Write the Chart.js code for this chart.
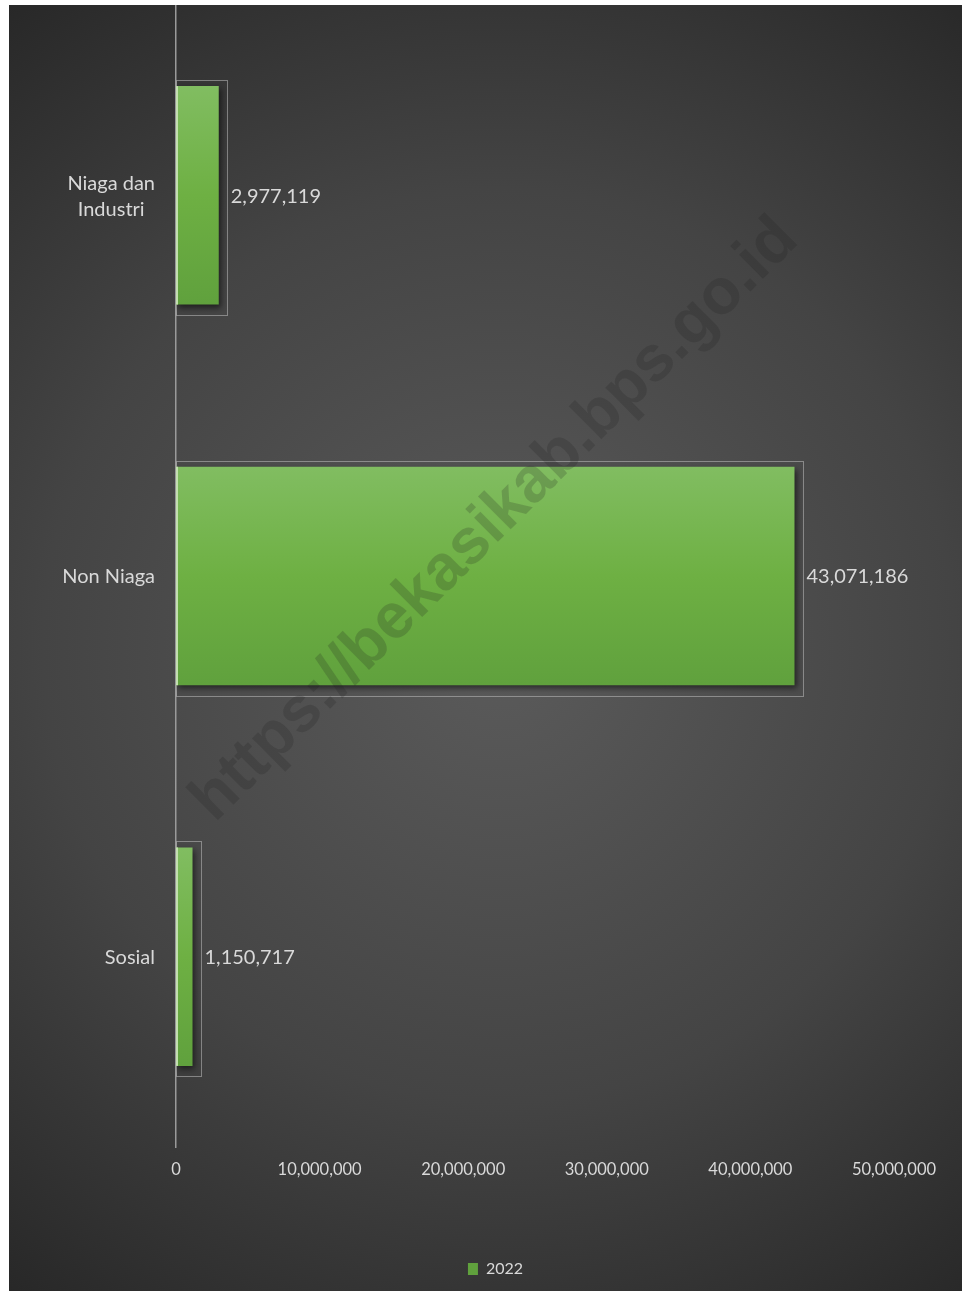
<!DOCTYPE html>
<html lang="id">
<head>
    <meta charset="UTF-8">
    <title>Pelanggan Listrik 2022</title>
    <style>
        html, body { margin: 0; padding: 0; background: #ffffff; }
        #wrap { position: absolute; left: 9px; top: 5px; width: 953px; height: 1286px; }
    </style>
</head>
<body>
    <div id="wrap"><canvas id="chart" width="953" height="1286"></canvas></div>

    <script src="https://cdn.jsdelivr.net/npm/chart.js"></script>
    <script>
        // data
        const kategori = [['Niaga dan', 'Industri'], 'Non Niaga', 'Sosial'];
        const nilai2022 = [2977119, 43071186, 1150717];
        const namaSeri = '2022';
        const sumbuX = { min: 0, max: 50000000, step: 10000000 };
        const watermark = 'https://bekasikab.bps.go.id';

        const FONT = 'Lato, "Open Sans", sans-serif';
        const TEXT = '#d9d9d9';
        const BAR_PCT = 0.574;
        const PAD_RIGHT = 68;

        function fmt(v) { return Number(v).toLocaleString('en-US'); }

        function barGradient(ctx) {
            const chart = ctx.chart;
            const y = chart.scales.y;
            if (!chart.chartArea || !y || ctx.dataIndex === undefined) return '#6fae47';
            const c = y.getPixelForValue(ctx.dataIndex);
            const h = (y.height / kategori.length) * BAR_PCT;
            if (!isFinite(c) || !isFinite(h)) return '#6fae47';
            const g = chart.ctx.createLinearGradient(0, c - h / 2, 0, c + h / 2);
            g.addColorStop(0, '#81bd61');
            g.addColorStop(0.5, '#6eb043');
            g.addColorStop(1, '#60a13d');
            return g;
        }

        // latar gradien radial
        const background = {
            id: 'background',
            beforeDraw(chart) {
                const ctx = chart.ctx;
                const g = ctx.createRadialGradient(490, 640, 0, 490, 640, 830);
                g.addColorStop(0, '#5b5b5b');
                g.addColorStop(0.55, '#444444');
                g.addColorStop(1, '#262626');
                ctx.save();
                ctx.fillStyle = g;
                ctx.fillRect(0, 0, chart.width, chart.height);
                ctx.restore();
            }
        };

        // geser legenda ke kanan supaya sama dengan gambar asli
        const legendShift = {
            id: 'legendShift',
            afterLayout(chart) {
                const lg = chart.legend;
                if (!lg) return;
                lg.left += 44;
                lg.right += 44;
            }
        };

        // kotak tipis, bayangan, label data, watermark
        const decor = {
            id: 'decor',
            beforeDatasetsDraw(chart) {
                const ctx = chart.ctx;
                const meta = chart.getDatasetMeta(0);
                ctx.save();
                ctx.strokeStyle = 'rgba(190,190,190,0.55)';
                ctx.lineWidth = 1;
                meta.data.forEach(bar => {
                    const top = bar.y - bar.height / 2;
                    const bot = bar.y + bar.height / 2;
                    ctx.strokeRect(bar.base + 0.5, Math.round(top - 6) + 0.5,
                        Math.round(bar.x + 8 - bar.base), Math.round(bot + 10 - (top - 6)));
                });
                ctx.restore();
                ctx.save();
                ctx.shadowColor = 'rgba(0,0,0,0.55)';
                ctx.shadowBlur = 6;
                ctx.shadowOffsetX = 2;
                ctx.shadowOffsetY = 3;
            },
            afterDatasetsDraw(chart) {
                const ctx = chart.ctx;
                ctx.restore();
                const meta = chart.getDatasetMeta(0);
                ctx.save();
                meta.data.forEach((bar, i) => {
                    const top = bar.y - bar.height / 2;
                    ctx.fillStyle = '#c3dfb0';
                    ctx.fillRect(bar.base, top, 2, bar.height);
                    ctx.fillStyle = TEXT;
                    ctx.font = '20px ' + FONT;
                    ctx.textAlign = 'left';
                    ctx.textBaseline = 'middle';
                    ctx.fillText(fmt(nilai2022[i]), bar.x + 12, bar.y + 1);
                });

                // label kategori (baris dirata-tengah satu sama lain)
                const y = chart.scales.y;
                ctx.font = '20px ' + FONT;
                ctx.textBaseline = 'middle';
                ctx.textAlign = 'center';
                const right = y.right - 21;
                kategori.forEach((lab, i) => {
                    const lines = Array.isArray(lab) ? lab : [lab];
                    const w = Math.max(...lines.map(l => ctx.measureText(l).width));
                    const c = y.getPixelForValue(i);
                    const lh = 26;
                    lines.forEach((l, k) => {
                        ctx.fillText(l, right - w / 2, c + 1 + (k - (lines.length - 1) / 2) * lh);
                    });
                });

                // watermark
                ctx.translate(486, 515);
                ctx.rotate(-44.8 * Math.PI / 180);
                ctx.font = 'bold 64px "Liberation Sans", Arial, sans-serif';
                ctx.textAlign = 'center';
                ctx.fillStyle = 'rgba(30,30,30,0.2)';
                ctx.fillText(watermark, 0, 0);
                ctx.restore();
            }
        };

        new Chart(document.getElementById('chart'), {
            type: 'bar',
            data: {
                labels: kategori,
                datasets: [{
                    label: namaSeri,
                    data: nilai2022,
                    backgroundColor: barGradient,
                    borderWidth: 0,
                    barPercentage: BAR_PCT,
                    categoryPercentage: 1
                }]
            },
            options: {
                indexAxis: 'y',
                responsive: false,
                animation: false,
                layout: { padding: { left: 0, right: PAD_RIGHT, top: 0, bottom: 4 } },
                scales: {
                    x: {
                        min: sumbuX.min,
                        max: sumbuX.max,
                        grid: { display: false, drawTicks: false },
                        border: { display: false },
                        ticks: {
                            stepSize: sumbuX.step,
                            padding: 13,
                            color: TEXT,
                            font: { family: FONT, size: 16.5 },
                            callback: v => fmt(v)
                        },
                        afterFit(scale) { scale.height = 104; }
                    },
                    y: {
                        grid: { display: false, drawTicks: false },
                        border: { display: true, color: '#9a9a9a', width: 1.5 },
                        ticks: { display: false },
                        afterFit(scale) { scale.width = 167; }
                    }
                },
                plugins: {
                    legend: {
                        position: 'bottom',
                        labels: {
                            color: TEXT,
                            font: { family: FONT, size: 16 },
                            boxWidth: 10,
                            boxHeight: 12,
                            padding: 10
                        }
                    },
                    tooltip: { enabled: false }
                }
            },
            plugins: [background, legendShift, decor]
        });
    </script>
</body>
</html>
